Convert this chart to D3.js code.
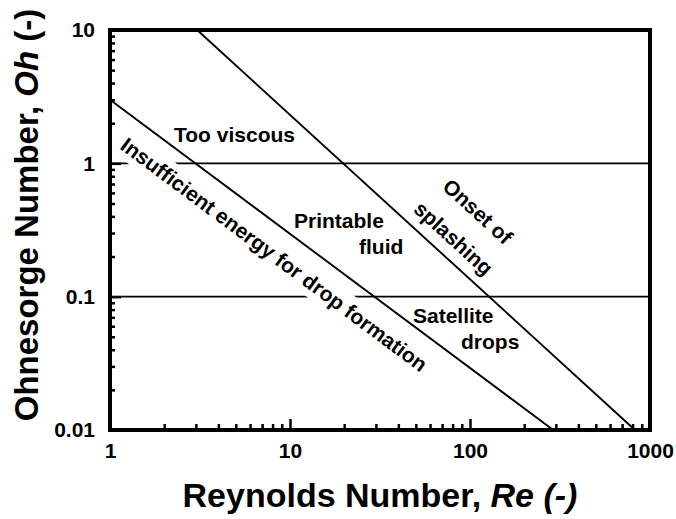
<!DOCTYPE html>
<html>
<head>
<meta charset="utf-8">
<script src="https://cdn.jsdelivr.net/npm/d3@7"></script>
<style>
  body { margin: 0; background: #fff; }
  svg { display: block; }
  text { font-family: "Liberation Sans", Arial, sans-serif; font-weight: bold; fill: #000; }
</style>
</head>
<body>
<svg id="chart" width="676" height="519"></svg>
<script>
// Printability map: Ohnesorge number vs Reynolds number (log-log)
const reDomain = [1, 1000];
const ohDomain = [0.01, 10];
const reMajorTicks = [1, 10, 100, 1000];
const reTickLabels = ["1", "10", "100", "1000"];
const ohMajorTicks = [0.01, 0.1, 1, 10];
const ohTickLabels = ["0.01", "0.1", "1", "10"];

// Horizontal regime boundaries (Oh = 1 and Oh = 0.1)
const regimeBoundsOh = [1, 0.1];

// Lower bound: insufficient energy for drop formation
const minEnergyRe = [1, 290];
const minEnergyOh = [3, 0.01];

// Upper bound: onset of splashing
const splashRe = [3.05, 825];
const splashOh = [10, 0.01];

const svg = d3.select("#chart");
const x = d3.scaleLog().domain(reDomain).range([110, 650]);
const y = d3.scaleLog().domain(ohDomain).range([430, 30]);

const plot = svg.append("g");

// horizontal boundaries
plot.selectAll("line.hbound")
  .data(regimeBoundsOh)
  .join("line")
  .attr("class", "hbound")
  .attr("x1", x(reDomain[0])).attr("x2", x(reDomain[1]))
  .attr("y1", d => y(d)).attr("y2", d => y(d))
  .attr("stroke", "#000").attr("stroke-width", 1.9);

// diagonal boundaries
const bounds = [
  d3.zip(minEnergyRe, minEnergyOh),
  d3.zip(splashRe, splashOh)
];
const line = d3.line().x(d => x(d[0])).y(d => y(d[1]));
plot.selectAll("path.dbound")
  .data(bounds)
  .join("path")
  .attr("class", "dbound")
  .attr("d", line)
  .attr("fill", "none")
  .attr("stroke", "#000").attr("stroke-width", 1.9);

function screenAngle(res, ohs) {
  const dx = x(res[1]) - x(res[0]);
  const dy = y(ohs[1]) - y(ohs[0]);
  return Math.atan2(dy, dx) * 180 / Math.PI;
}
const lowAngle = screenAngle(minEnergyRe, minEnergyOh);
const splashAngle = screenAngle(splashRe, splashOh);

// region labels
const labels = svg.append("g").attr("font-size", 21);

// rotated label along the lower bound, on a white band
const insuff = labels.append("g")
  .attr("transform", `translate(273,256) rotate(${lowAngle})`);
const insuffText = insuff.append("text")
  .attr("text-anchor", "middle")
  .attr("dy", 5.5)
  .text("Insufficient energy for drop formation");
const bb = insuffText.node().getBBox();
insuff.insert("rect", "text")
  .attr("x", bb.x - 3).attr("y", bb.y - 3)
  .attr("width", bb.width + 6).attr("height", bb.height + 6)
  .attr("fill", "#fff");

labels.append("text").attr("x", 174).attr("y", 142).text("Too viscous");
labels.append("text").attr("x", 294).attr("y", 228).text("Printable");
labels.append("text").attr("x", 359).attr("y", 254).text("fluid");
labels.append("text").attr("x", 413).attr("y", 323).text("Satellite");
labels.append("text").attr("x", 461).attr("y", 349).text("drops");

labels.append("text")
  .attr("transform", `translate(477.5,211.7) rotate(${splashAngle})`)
  .attr("text-anchor", "middle").attr("dy", 7)
  .text("Onset of");
labels.append("text")
  .attr("transform", `translate(452,240) rotate(${splashAngle})`)
  .attr("text-anchor", "middle").attr("dy", 5)
  .text("splashing");

// axes
const reMinor = x.ticks().filter(d => !reMajorTicks.includes(d));
const ohMinor = y.ticks().filter(d => !ohMajorTicks.some(m => Math.abs(m - d) < 1e-9));

function styleAxis(g) {
  g.select(".domain").remove();
  g.attr("font-family", null).attr("font-size", 21);
  g.selectAll(".tick line").attr("stroke-width", 2.5);
}

svg.append("g")
  .attr("transform", "translate(0,430)")
  .call(d3.axisBottom(x).tickValues(reMinor).tickSizeInner(-6).tickSizeOuter(0).tickFormat(""))
  .call(styleAxis);
svg.append("g")
  .attr("transform", "translate(0,430)")
  .call(d3.axisBottom(x).tickValues(reMajorTicks).tickSizeInner(-11).tickSizeOuter(0)
    .tickPadding(13).tickFormat((d, i) => reTickLabels[i]))
  .call(styleAxis);

svg.append("g")
  .attr("transform", "translate(110,0)")
  .call(d3.axisLeft(y).tickValues(ohMinor).tickSizeInner(-5).tickSizeOuter(0).tickFormat(""))
  .call(styleAxis);
svg.append("g")
  .attr("transform", "translate(110,0)")
  .call(d3.axisLeft(y).tickValues(ohMajorTicks).tickSizeInner(-11).tickSizeOuter(0)
    .tickPadding(15).tickFormat((d, i) => ohTickLabels[i]))
  .call(styleAxis);

// frame
svg.append("rect")
  .attr("x", x(reDomain[0])).attr("y", y(ohDomain[1]))
  .attr("width", x(reDomain[1]) - x(reDomain[0]))
  .attr("height", y(ohDomain[0]) - y(ohDomain[1]))
  .attr("fill", "none").attr("stroke", "#000").attr("stroke-width", 4);

// axis titles
const yt = svg.append("text")
  .attr("transform", "translate(38,215) rotate(-90)")
  .attr("text-anchor", "middle").attr("font-size", 33);
yt.append("tspan").text("Ohnesorge Number, ");
yt.append("tspan").attr("font-style", "italic").text("Oh");
yt.append("tspan").text(" (-)");

const xt = svg.append("text")
  .attr("x", 380).attr("y", 507)
  .attr("text-anchor", "middle").attr("font-size", 34);
xt.append("tspan").text("Reynolds Number, ");
xt.append("tspan").attr("font-style", "italic").text("Re (-)");
</script>
</body>
</html>
